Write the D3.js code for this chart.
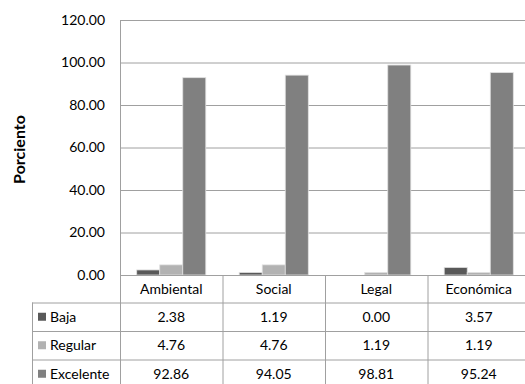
<!DOCTYPE html>
<html><head><meta charset="utf-8">
<script src="https://cdn.jsdelivr.net/npm/d3@7"></script>
<style>body{margin:0;background:#fff;} svg{display:block;} text{font-family:Lato, "Open Sans", sans-serif;}</style>
</head><body>
<svg id="c" width="525" height="384"></svg>
<script>
const categories = ["Ambiental", "Social", "Legal", "Económica"];
const seriesNames = ["Baja", "Regular", "Excelente"];
const baja = [2.38, 1.19, 0.00, 3.57];
const regular = [4.76, 4.76, 1.19, 1.19];
const excelente = [92.86, 94.05, 98.81, 95.24];
const yTicks = [0, 20, 40, 60, 80, 100, 120];
const colors = ["#595959", "#b2b2b2", "#808080"];
const seriesValues = [baja, regular, excelente];

(function () {
const svg = d3.select("#c");
const pLeft = 120, pRight = 530, pTop = 20, pBottom = 275;
const fs = 14;
const x0 = d3.scaleBand().domain(categories).range([pLeft, pRight]).padding(0);
const cw = x0.bandwidth();
const x1 = d3.scaleBand().domain(seriesNames).range([cw * 0.163, cw * 0.837]).padding(0);
const y = d3.scaleLinear().domain([0, 120]).range([pBottom, pTop]);
const grid = "#a0a0a0";

svg.append("g").selectAll("line").data(yTicks).join("line")
  .attr("x1", pLeft).attr("x2", pRight)
  .attr("y1", d => y(d) + 0.5).attr("y2", d => y(d) + 0.5)
  .attr("stroke", grid).attr("stroke-width", 1);
svg.append("line").attr("x1", pLeft + 0.5).attr("x2", pLeft + 0.5).attr("y1", pTop).attr("y2", pBottom)
  .attr("stroke", grid);

const yAxis = d3.axisLeft(y).tickValues(yTicks).tickFormat(d3.format(".2f")).tickSize(0).tickPadding(15);
const ga = svg.append("g").attr("transform", `translate(${pLeft},0)`).call(yAxis);
ga.select(".domain").remove();
ga.selectAll("text").attr("font-size", fs).attr("fill", "#000").attr("font-family", "Lato, sans-serif");

svg.append("text").attr("transform", "translate(25,149.5) rotate(-90)")
  .attr("text-anchor", "middle").attr("font-size", 16).attr("font-weight", "bold").text("Porciento");

seriesNames.forEach((s, si) => {
  svg.append("g").selectAll("rect").data(categories).join("rect")
    .attr("x", c => x0(c) + x1(s))
    .attr("width", x1.bandwidth())
    .attr("y", (c, i) => y(seriesValues[si][i]))
    .attr("height", (c, i) => pBottom - y(seriesValues[si][i]))
    .attr("fill", colors[si])
    .attr("stroke", "#e0e0e0").attr("stroke-width", 0.8);
});

const tableLeft = 32;
const rowTops = [275, 302.5, 331, 359.5, 388];
const t = svg.append("g");
rowTops.forEach((ry, i) => {
  t.append("line").attr("x1", i === 0 ? pLeft : tableLeft).attr("x2", pRight)
    .attr("y1", ry + 0.5).attr("y2", ry + 0.5).attr("stroke", grid);
});
t.append("line").attr("x1", tableLeft + 0.5).attr("x2", tableLeft + 0.5).attr("y1", rowTops[1]).attr("y2", 388).attr("stroke", grid);
categories.forEach(c => {
  t.append("line").attr("x1", x0(c) + 0.5).attr("x2", x0(c) + 0.5).attr("y1", pBottom).attr("y2", 388).attr("stroke", grid);
});
t.selectAll("text.h").data(categories).join("text").attr("class", "h")
  .attr("x", c => x0(c) + cw / 2).attr("y", (rowTops[0] + rowTops[1]) / 2)
  .attr("dy", "0.35em").attr("text-anchor", "middle").attr("font-size", fs).text(c => c);
seriesNames.forEach((s, si) => {
  const cy = (rowTops[si + 1] + rowTops[si + 2]) / 2;
  t.append("rect").attr("x", 38).attr("y", cy - 4).attr("width", 8).attr("height", 8).attr("fill", colors[si]);
  t.append("text").attr("x", 50).attr("y", cy).attr("dy", "0.35em").attr("font-size", fs).text(s);
  t.selectAll("text.v" + si).data(categories).join("text").attr("class", "v" + si)
    .attr("x", c => x0(c) + cw / 2).attr("y", cy).attr("dy", "0.35em")
    .attr("text-anchor", "middle").attr("font-size", fs)
    .text((c, i) => d3.format(".2f")(seriesValues[si][i]));
});
})();
</script>
</body></html>
